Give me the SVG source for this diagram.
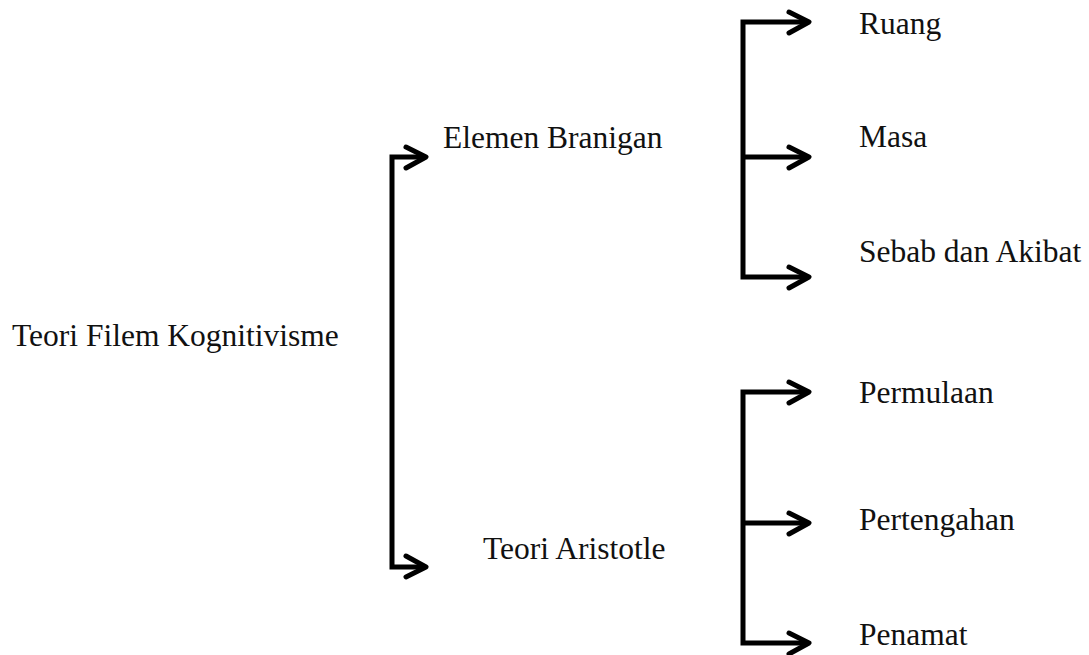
<svg xmlns="http://www.w3.org/2000/svg" width="1089" height="655" viewBox="0 0 1089 655">
  <defs>
    <style>
      .label { font-family: "Liberation Serif", "Times New Roman", serif; font-size: 31.5px; fill: #111; }
      .link { fill: none; stroke: #000; stroke-width: 5; stroke-linejoin: miter; }
      .head { fill: none; stroke: #000; stroke-width: 5; stroke-linecap: round; stroke-linejoin: round; }
    </style>
  </defs>
  <rect width="1089" height="655" fill="#fff"/>

  <!-- connectors: bracket lines with open chevron heads -->
  <g id="connectors">
    <!-- root bracket -->
    <path class="link" d="M423,157 H392 V567 H423"/>
    <path class="head" d="M406,147 L426,157 L406,168"/>
    <path class="head" d="M406,556 L426,567 L406,577"/>
    <!-- Elemen Branigan bracket -->
    <path class="link" d="M806,22 H743 V277 H806"/>
    <path class="link" d="M743,157 H806"/>
    <path class="head" d="M789,12 L809,22 L789,33"/>
    <path class="head" d="M789,147 L809,157 L789,168"/>
    <path class="head" d="M789,267 L809,277 L789,288"/>
    <!-- Teori Aristotle bracket -->
    <path class="link" d="M806,392 H743 V643 H806"/>
    <path class="link" d="M743,523 H806"/>
    <path class="head" d="M789,382 L809,392 L789,403"/>
    <path class="head" d="M789,513 L809,523 L789,534"/>
    <path class="head" d="M789,633 L809,643 L789,654"/>
  </g>

  <g id="root"><text class="label" x="12" y="346">Teori Filem Kognitivisme</text></g>
  <g id="elemen-branigan"><text class="label" x="443" y="148">Elemen Branigan</text></g>
  <g id="teori-aristotle"><text class="label" x="483" y="559">Teori Aristotle</text></g>
  <g id="ruang"><text class="label" x="859" y="34">Ruang</text></g>
  <g id="masa"><text class="label" x="859" y="147">Masa</text></g>
  <g id="sebab-akibat"><text class="label" x="859" y="262">Sebab dan Akibat</text></g>
  <g id="permulaan"><text class="label" x="859" y="403">Permulaan</text></g>
  <g id="pertengahan"><text class="label" x="859" y="530">Pertengahan</text></g>
  <g id="penamat"><text class="label" x="859" y="645">Penamat</text></g>
</svg>
